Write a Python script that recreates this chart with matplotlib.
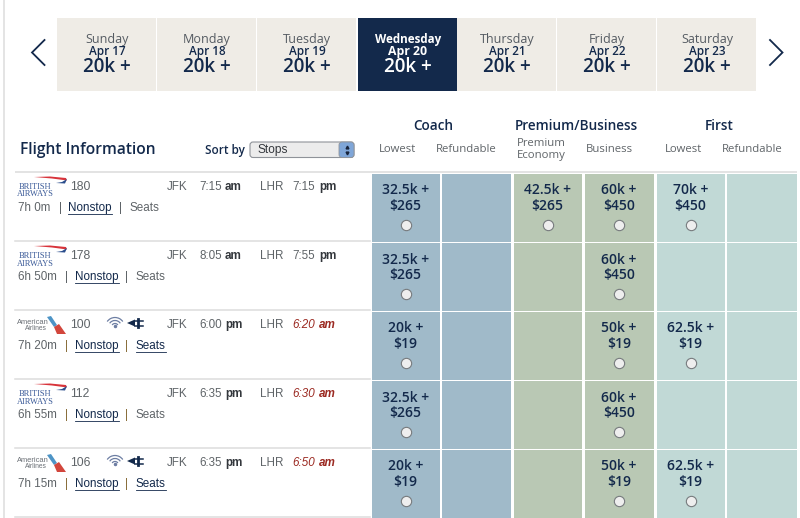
import matplotlib
matplotlib.use("Agg")
import matplotlib.pyplot as plt
from matplotlib.patches import Rectangle, Polygon, Arc, FancyBboxPatch

days = ["Sunday", "Monday", "Tuesday", "Wednesday", "Thursday", "Friday", "Saturday"]
dates = ["Apr 17", "Apr 18", "Apr 19", "Apr 20", "Apr 21", "Apr 22", "Apr 23"]
day_miles = ["20k +"] * 7
selected_day = 3

airlines = ["BA", "BA", "AA", "BA", "AA"]
flights = ["180", "178", "100", "112", "106"]
departs = ["7:15", "8:05", "6:00", "6:35", "6:35"]
depart_ampm = ["am", "am", "pm", "pm", "pm"]
arrives = ["7:15", "7:55", "6:20", "6:30", "6:50"]
arrive_ampm = ["pm", "pm", "am", "am", "am"]
next_day = [False, False, True, True, True]
durations = ["7h 0m", "6h 50m", "7h 20m", "6h 55m", "7h 15m"]
seats_link = [False, False, True, False, True]

coach_low = ["32.5k +\n$265", "32.5k +\n$265", "20k +\n$19", "32.5k +\n$265", "20k +\n$19"]
coach_ref = [None] * 5
premium = ["42.5k +\n$265", None, None, None, None]
business = ["60k +\n$450", "60k +\n$450", "50k +\n$19", "60k +\n$450", "50k +\n$19"]
first_low = ["70k +\n$450", None, "62.5k +\n$19", None, "62.5k +\n$19"]
first_ref = [None] * 5
fare_columns = [coach_low, coach_ref, premium, business, first_low, first_ref]

NAVY = "#13294b"
GREY = "#5f6468"
DARK = "#33373c"
SANS = "Liberation Sans"
HEAD = "Open Sans"
col_colors = ["#a0bac9", "#a0bac9", "#b9c8b4", "#b9c8b4", "#c1d9d6", "#c1d9d6"]
col_x = [(372, 440), (442, 511), (514, 582), (585, 654), (657, 725), (727, 797)]
row_top = [174, 243, 312, 381, 450]
ROW_H = 67.5

fig = plt.figure(figsize=(8.0, 5.18), dpi=100)
ax = fig.add_axes([0, 0, 1, 1])
ax.set_xlim(0, 800)
ax.set_ylim(518, 0)
ax.axis("off")

def T(x, y, s, size=8.6, color=GREY, ha="left", weight="normal", style="normal", family=SANS, **kw):
    return ax.text(x, y, s, fontsize=size, color=color, ha=ha, va="center",
                   fontweight=weight, fontstyle=style, family=family, **kw)

# page edge
ax.add_patch(Rectangle((3, 0), 2, 518, color="#e4e4e4", lw=0))

# date tabs
for i, (d, dt, m) in enumerate(zip(days, dates, day_miles)):
    x0 = 57 + i * 100 + (1 if i == selected_day else 0)
    sel = i == selected_day
    ax.add_patch(Rectangle((x0, 17.5), 99, 73.5, facecolor=NAVY if sel else "#efece6",
                           edgecolor="none", lw=0, zorder=1))
    cx = x0 + 50
    c1 = "white" if sel else "#555b62"
    c2 = "white" if sel else NAVY
    T(cx, 39, d, 8.4 if sel else 9.0, c1, "center", "bold" if sel else "normal", family=HEAD)
    T(cx, 51.5, dt, 8.8 if sel else 8.5, c2, "center", "bold" if sel else "semibold", family=HEAD)
    T(cx, 67, m, 13.6, c2, "center", "semibold", family=HEAD)

# chevrons
ax.plot([44.5, 32, 44.5], [40, 52.5, 65], color=NAVY, lw=1.3, solid_joinstyle="miter")
ax.plot([770, 782.5, 770], [40, 52.5, 65], color=NAVY, lw=1.3, solid_joinstyle="miter")

# header
T(20, 150.5, "Flight Information", 11.2, NAVY, weight="semibold", family=HEAD)
T(205, 150.5, "Sort by", 8.4, NAVY, weight="semibold", family=HEAD)
ax.add_patch(FancyBboxPatch((250, 142), 104, 15.5, boxstyle="round,pad=0,rounding_size=3",
                            facecolor="#ececec", edgecolor="#8f9399", lw=0.8))
ax.add_patch(FancyBboxPatch((339, 142), 15, 15.5, boxstyle="round,pad=0,rounding_size=3",
                            facecolor="#7fa6d8", edgecolor="#8f9399", lw=0.6))
ax.plot([346.5], [147], marker="^", ms=2, color="#17233a", lw=0)
ax.plot([346.5], [153], marker="v", ms=2, color="#17233a", lw=0)
T(258, 150.5, "Stops", 8.6, DARK)

T(433, 125.5, "Coach", 9.8, NAVY, "center", "semibold", family=HEAD)
T(576, 125.5, "Premium/Business", 9.8, NAVY, "center", "semibold", family=HEAD)
T(719, 125.5, "First", 9.8, NAVY, "center", "semibold", family=HEAD)
T(398, 150, "Lowest", 8.2, GREY, "center", family=HEAD)
T(466, 150, "Refundable", 8.2, GREY, "center", family=HEAD)
T(541, 149.5, "Premium\nEconomy", 8.2, GREY, "center", family=HEAD, linespacing=1.05)
T(609, 150, "Business", 8.2, GREY, "center", family=HEAD)
T(684, 150, "Lowest", 8.2, GREY, "center", family=HEAD)
T(752, 150, "Refundable", 8.2, GREY, "center", family=HEAD)

# rules
ax.add_patch(Rectangle((15, 170.5), 782, 2, color="#e3e3e3", lw=0))
for top in row_top[1:] + [row_top[-1] + 69]:
    ax.plot([15, 370], [top - 2] * 2, color="#dcdcdc", lw=1.1)

def ba_logo(y):
    ax.add_patch(Polygon([(34, y + 3), (50, y + 2.5), (66, y + 4), (67, y + 6.5), (52, y + 4.5)],
                         color="#d8343b", lw=0))
    ax.add_patch(Polygon([(56, y + 9), (62, y + 8), (67, y + 5), (65, y + 9.5)], color="#2a4d8c", lw=0))
    T(35, y + 13, "BRITISH", 6.0, "#3a5a98", ha="center", family="Liberation Serif")
    T(35, y + 20.5, "AIRWAYS", 6.0, "#3a5a98", ha="center", family="Liberation Serif")

def aa_logo(y):
    T(32.5, y + 10, "American", 5.4, "#6a6f75", ha="center")
    T(36, y + 16, "Airlines", 4.8, "#6a6f75", ha="center")
    ax.add_patch(Polygon([(47, y + 5), (51, y + 4), (57, y + 13), (54, y + 15)], color="#4d94c6", lw=0))
    ax.add_patch(Polygon([(54, y + 15), (59, y + 12), (66, y + 22), (57, y + 22)], color="#d2463c", lw=0))

def icons(y):
    for r in (3.5, 6.5, 9.5):
        ax.add_patch(Arc((115, y + 9), 2 * r, 2 * r, theta1=215, theta2=325, color="#6d7ea3", lw=0.9))
    ax.plot([115], [y + 8], "o", ms=1.5, color="#6d7ea3")
    ax.add_patch(Polygon([(127, y + 5), (135, y + 1.5), (135, y + 8.5)], color=NAVY, lw=0))
    ax.plot([135, 143], [y + 2.5] * 2, color=NAVY, lw=1.1)
    ax.plot([135, 143], [y + 7.5] * 2, color=NAVY, lw=1.1)
    ax.plot([138, 138], [y + 1, y + 9], color=NAVY, lw=2)

# flight rows
for i in range(5):
    y = row_top[i]
    ty = y + 13
    if airlines[i] == "BA":
        ba_logo(y)
    else:
        aa_logo(y)
        icons(y + 6)
    T(70, ty, flights[i], 8.8)
    T(167, ty, "JFK", 8.4)
    T(199, ty, departs[i], 8.4)
    T(225, ty, depart_ampm[i], 8.4, DARK, weight="bold")
    T(260, ty, "LHR", 8.4)
    arr_col = "#9b2a22" if next_day[i] else GREY
    arr_col2 = "#9b2a22" if next_day[i] else DARK
    st = "italic" if next_day[i] else "normal"
    T(292, ty, arrives[i], 8.4, arr_col, style=st)
    T(319, ty, arrive_ampm[i], 8.4, arr_col2, weight="bold", style=st)
    by = ty + 21
    T(18, by, durations[i], 8.4)
    xa = 58.5 if i == 0 else 65
    T(xa, by, "|", 8.4, "#8a6f3c" if i > 1 else GREY)
    xn = 68 if i == 0 else 74.5
    T(xn, by, "Nonstop", 8.4, NAVY)
    ax.plot([xn, xn + 44], [by + 6] * 2, color=NAVY, lw=0.6)
    T(xn + 51, by, "|", 8.4, "#8a6f3c" if i > 1 else GREY)
    xs = xn + 61
    T(xs, by, "Seats", 8.4, NAVY if seats_link[i] else GREY)
    if seats_link[i]:
        ax.plot([xs, xs + 30], [by + 6] * 2, color=NAVY, lw=0.6)

# fare cells
for c, col in enumerate(fare_columns):
    x0, x1 = col_x[c]
    for i, val in enumerate(col):
        y = row_top[i]
        ax.add_patch(Rectangle((x0, y), x1 - x0, ROW_H, facecolor=col_colors[c], edgecolor="none", lw=0))
        if val:
            a, b = val.split("\n")
            cx = (x0 + x1) / 2 - 0.5
            T(cx, y + 16.5, a, 10, NAVY, "center", "semibold", family=HEAD)
            T(cx, y + 32, b, 10, NAVY, "center", "semibold", family=HEAD)
            ax.scatter([cx], [y + 51], s=55, facecolor="#eeeeee", edgecolor="#777b7e", lw=0.8, zorder=3)

fig.savefig("out.png", dpi=100)
